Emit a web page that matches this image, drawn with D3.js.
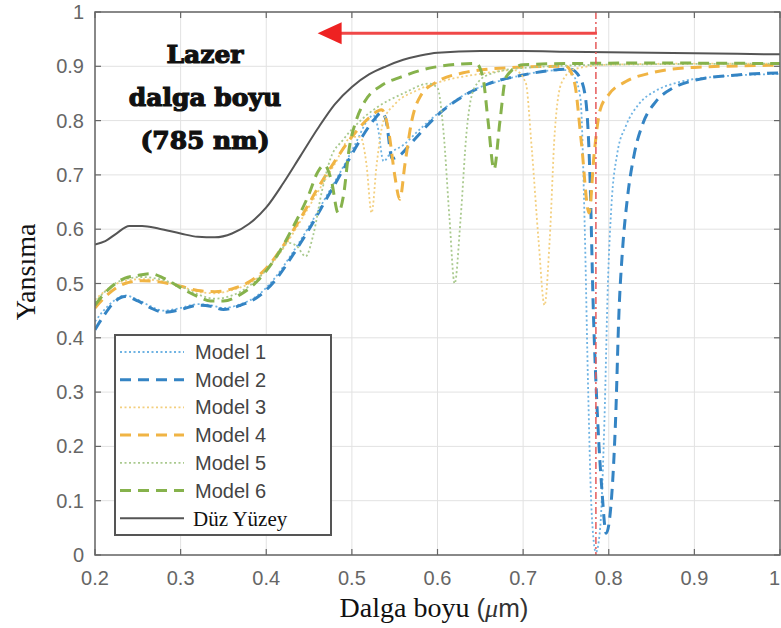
<!DOCTYPE html>
<html>
<head>
<meta charset="utf-8">
<script src="https://cdn.jsdelivr.net/npm/d3@7"></script>
<style>
  body { margin: 0; background: #fff; }
  svg { display: block; }
</style>
</head>
<body>
<div id="chart"></div>
<script>
// values: [wavelength (um), reflectance]
const model1 = [[0.2,0.43],[0.21,0.45],[0.222,0.468],[0.235,0.478],[0.25,0.47],[0.265,0.458],[0.28,0.45],[0.3,0.455],[0.32,0.462],[0.335,0.46],[0.35,0.455],[0.37,0.462],[0.39,0.478],[0.41,0.51],[0.43,0.555],[0.45,0.605],[0.47,0.66],[0.49,0.715],[0.505,0.76],[0.518,0.8],[0.525,0.81],[0.53,0.79],[0.537,0.725],[0.545,0.74],[0.56,0.755],[0.58,0.785],[0.61,0.825],[0.64,0.855],[0.67,0.872],[0.7,0.884],[0.73,0.892],[0.75,0.893],[0.76,0.88],[0.767,0.84],[0.772,0.6],[0.776,0.3],[0.78,0.08],[0.785,0.005],[0.79,0.05],[0.795,0.25],[0.799,0.5],[0.803,0.64],[0.81,0.74],[0.82,0.79],[0.835,0.83],[0.855,0.855],[0.88,0.87],[0.92,0.88],[1.0,0.886]];
const model2 = [[0.2,0.415],[0.21,0.44],[0.222,0.465],[0.235,0.476],[0.25,0.468],[0.265,0.455],[0.28,0.447],[0.3,0.452],[0.32,0.46],[0.335,0.458],[0.35,0.452],[0.37,0.46],[0.39,0.475],[0.41,0.505],[0.43,0.55],[0.45,0.6],[0.47,0.655],[0.49,0.71],[0.51,0.765],[0.525,0.8],[0.535,0.815],[0.54,0.8],[0.547,0.73],[0.555,0.735],[0.57,0.76],[0.6,0.81],[0.63,0.845],[0.66,0.868],[0.7,0.884],[0.73,0.892],[0.755,0.895],[0.766,0.88],[0.773,0.84],[0.778,0.7],[0.782,0.45],[0.787,0.25],[0.792,0.12],[0.797,0.04],[0.803,0.1],[0.808,0.25],[0.812,0.45],[0.816,0.56],[0.822,0.66],[0.83,0.74],[0.84,0.795],[0.855,0.835],[0.875,0.86],[0.9,0.874],[0.95,0.884],[1.0,0.888]];
const model3 = [[0.2,0.47],[0.215,0.49],[0.235,0.505],[0.255,0.508],[0.275,0.505],[0.3,0.495],[0.32,0.485],[0.34,0.482],[0.36,0.488],[0.38,0.5],[0.4,0.525],[0.42,0.565],[0.44,0.615],[0.46,0.668],[0.48,0.72],[0.5,0.77],[0.51,0.77],[0.517,0.72],[0.523,0.63],[0.529,0.72],[0.537,0.8],[0.55,0.83],[0.575,0.855],[0.6,0.87],[0.65,0.886],[0.69,0.893],[0.703,0.87],[0.71,0.75],[0.718,0.58],[0.725,0.46],[0.731,0.58],[0.737,0.78],[0.745,0.87],[0.76,0.895],[0.8,0.903],[0.9,0.905],[1.0,0.905]];
const model4 = [[0.2,0.455],[0.215,0.48],[0.235,0.5],[0.255,0.505],[0.275,0.503],[0.3,0.495],[0.32,0.487],[0.34,0.485],[0.36,0.49],[0.38,0.503],[0.4,0.528],[0.42,0.57],[0.44,0.62],[0.46,0.675],[0.48,0.725],[0.5,0.77],[0.52,0.805],[0.535,0.82],[0.543,0.78],[0.55,0.7],[0.556,0.655],[0.562,0.72],[0.57,0.8],[0.58,0.845],[0.6,0.872],[0.63,0.888],[0.68,0.897],[0.75,0.9],[0.76,0.87],[0.768,0.76],[0.777,0.63],[0.783,0.74],[0.79,0.82],[0.8,0.848],[0.82,0.872],[0.85,0.888],[0.9,0.898],[1.0,0.902]];
const model5 = [[0.2,0.465],[0.215,0.49],[0.235,0.508],[0.255,0.512],[0.275,0.508],[0.3,0.495],[0.32,0.48],[0.34,0.472],[0.36,0.478],[0.38,0.495],[0.4,0.525],[0.415,0.555],[0.425,0.575],[0.435,0.57],[0.446,0.55],[0.455,0.59],[0.465,0.67],[0.475,0.73],[0.49,0.765],[0.51,0.8],[0.53,0.825],[0.56,0.85],[0.59,0.868],[0.6,0.86],[0.607,0.78],[0.614,0.62],[0.62,0.5],[0.627,0.62],[0.634,0.78],[0.643,0.86],[0.66,0.885],[0.7,0.897],[0.8,0.903],[1.0,0.905]];
const model6 = [[0.2,0.46],[0.215,0.488],[0.235,0.51],[0.25,0.515],[0.265,0.518],[0.28,0.51],[0.3,0.492],[0.32,0.476],[0.335,0.468],[0.35,0.468],[0.37,0.48],[0.39,0.505],[0.41,0.545],[0.43,0.6],[0.45,0.665],[0.46,0.705],[0.468,0.718],[0.476,0.69],[0.484,0.63],[0.49,0.66],[0.497,0.75],[0.505,0.8],[0.515,0.835],[0.535,0.865],[0.557,0.88],[0.595,0.898],[0.645,0.905],[0.653,0.88],[0.659,0.8],[0.666,0.71],[0.673,0.8],[0.68,0.88],[0.7,0.903],[0.75,0.905],[0.85,0.906],[1.0,0.905]];
const flatSurface = [[0.2,0.572],[0.212,0.578],[0.225,0.592],[0.24,0.606],[0.255,0.606],[0.275,0.601],[0.3,0.592],[0.32,0.586],[0.34,0.585],[0.36,0.592],[0.38,0.61],[0.4,0.64],[0.42,0.685],[0.44,0.735],[0.46,0.785],[0.48,0.83],[0.5,0.862],[0.52,0.885],[0.54,0.9],[0.56,0.912],[0.58,0.92],[0.6,0.925],[0.65,0.928],[0.7,0.928],[0.75,0.927],[0.8,0.926],[0.85,0.925],[0.9,0.924],[0.95,0.923],[1.0,0.922]];

const xTicks = [0.2, 0.3, 0.4, 0.5, 0.6, 0.7, 0.8, 0.9, 1];
const xTickLabels = ["0.2", "0.3", "0.4", "0.5", "0.6", "0.7", "0.8", "0.9", "1"];
const yTicks = [0, 0.1, 0.2, 0.3, 0.4, 0.5, 0.6, 0.7, 0.8, 0.9, 1];
const yTickLabels = ["0", "0.1", "0.2", "0.3", "0.4", "0.5", "0.6", "0.7", "0.8", "0.9", "1"];

const laserWl = 0.785;     // 785 nm
const arrowLevel = 0.961;
const arrowTip = 0.46;

const series = [
  {name: "Model 1", data: model1, color: "#6fb3e3", width: 1.8, dash: "2,2.5"},
  {name: "Model 2", data: model2, color: "#3484c4", width: 3, dash: "11,7"},
  {name: "Model 3", data: model3, color: "#f3cf7f", width: 1.8, dash: "2,2.5"},
  {name: "Model 4", data: model4, color: "#f0b444", width: 3, dash: "11,7"},
  {name: "Model 5", data: model5, color: "#a9c98e", width: 1.8, dash: "2,2.5"},
  {name: "Model 6", data: model6, color: "#86b24c", width: 3, dash: "11,7"},
  {name: "Düz Yüzey", data: flatSurface, color: "#555", width: 2, dash: null}
];

const svgW = 781, svgH = 628;
const plotL = 95, plotR = 780, plotT = 12, plotB = 555;

const svg = d3.select("#chart").append("svg")
  .attr("width", svgW)
  .attr("height", svgH);

const x = d3.scaleLinear().domain([0.2, 1]).range([plotL, plotR]);
const y = d3.scaleLinear().domain([0, 1]).range([plotB, plotT]);

// grid
svg.append("g").selectAll("line").data(xTicks).enter().append("line")
  .attr("x1", d => x(d)).attr("x2", d => x(d))
  .attr("y1", plotT).attr("y2", plotB)
  .attr("stroke", "#e2e2e2").attr("stroke-width", 1);
svg.append("g").selectAll("line").data(yTicks).enter().append("line")
  .attr("x1", plotL).attr("x2", plotR)
  .attr("y1", d => y(d)).attr("y2", d => y(d))
  .attr("stroke", "#e2e2e2").attr("stroke-width", 1);

svg.append("defs").append("clipPath").attr("id", "plotclip")
  .append("rect").attr("x", plotL).attr("y", plotT)
  .attr("width", plotR - plotL).attr("height", plotB - plotT);

// curves
const line = d3.line()
  .x(d => x(d[0]))
  .y(d => y(d[1]))
  .curve(d3.curveMonotoneX);

const curves = svg.append("g").attr("clip-path", "url(#plotclip)");
series.forEach(s => {
  curves.append("path")
    .datum(s.data)
    .attr("d", line)
    .attr("fill", "none")
    .attr("stroke", s.color)
    .attr("stroke-width", s.width)
    .attr("stroke-dasharray", s.dash)
    .attr("stroke-linejoin", "round");
});

// laser wavelength marker
svg.append("line")
  .attr("x1", x(laserWl)).attr("x2", x(laserWl))
  .attr("y1", plotT).attr("y2", plotB)
  .attr("stroke", "#e65a5a").attr("stroke-width", 1.5)
  .attr("stroke-dasharray", "7,3,2,3");
svg.append("line")
  .attr("x1", x(laserWl) + 1).attr("x2", x(arrowTip) + 20)
  .attr("y1", y(arrowLevel)).attr("y2", y(arrowLevel))
  .attr("stroke", "#f04848").attr("stroke-width", 3);
svg.append("path")
  .attr("d", d3.line()([[x(arrowTip), y(arrowLevel)], [x(arrowTip) + 24, y(arrowLevel) - 11], [x(arrowTip) + 24, y(arrowLevel) + 11]]) + "Z")
  .attr("fill", "#ee2222");

// box and inward ticks
svg.append("rect")
  .attr("x", plotL).attr("y", plotT)
  .attr("width", plotR - plotL).attr("height", plotB - plotT)
  .attr("fill", "none").attr("stroke", "#666").attr("stroke-width", 1.5);

const tickG = svg.append("g").attr("stroke", "#666").attr("stroke-width", 1.2);
xTicks.forEach(t => {
  tickG.append("line").attr("x1", x(t)).attr("x2", x(t)).attr("y1", plotB).attr("y2", plotB - 6);
  tickG.append("line").attr("x1", x(t)).attr("x2", x(t)).attr("y1", plotT).attr("y2", plotT + 6);
});
yTicks.forEach(t => {
  tickG.append("line").attr("x1", plotL).attr("x2", plotL + 6).attr("y1", y(t)).attr("y2", y(t));
  tickG.append("line").attr("x1", plotR).attr("x2", plotR - 6).attr("y1", y(t)).attr("y2", y(t));
});

// tick labels (last one kept inside the window)
svg.append("g").selectAll("text").data(xTicks).enter().append("text")
  .attr("x", (d, i) => i === xTicks.length - 1 ? svgW - 1 : x(d))
  .attr("y", 585)
  .attr("text-anchor", (d, i) => i === xTicks.length - 1 ? "end" : "middle")
  .attr("font-family", "'Liberation Sans', Arial, sans-serif")
  .attr("font-size", 20)
  .attr("fill", "#666")
  .text((d, i) => xTickLabels[i]);
svg.append("g").selectAll("text").data(yTicks).enter().append("text")
  .attr("x", 84)
  .attr("y", d => y(d))
  .attr("dy", "0.35em")
  .attr("text-anchor", "end")
  .attr("font-family", "'Liberation Sans', Arial, sans-serif")
  .attr("font-size", 20)
  .attr("fill", "#666")
  .text((d, i) => yTickLabels[i]);

// axis titles
svg.append("text")
  .attr("transform", "translate(35,272) rotate(-90)")
  .attr("text-anchor", "middle")
  .attr("font-family", "'Liberation Serif', 'Times New Roman', serif")
  .attr("font-size", 28)
  .attr("fill", "#111")
  .text("Yansıma");

const xTitle = svg.append("text")
  .attr("x", 434).attr("y", 617)
  .attr("text-anchor", "middle")
  .attr("fill", "#111");
xTitle.append("tspan")
  .attr("font-family", "'Liberation Serif', 'Times New Roman', serif")
  .attr("font-size", 28)
  .text("Dalga boyu ");
xTitle.append("tspan")
  .attr("font-family", "'Liberation Sans', Arial, sans-serif")
  .attr("font-size", 26)
  .attr("fill", "#333")
  .text("(");
xTitle.append("tspan")
  .attr("font-family", "'Liberation Serif', 'Times New Roman', serif")
  .attr("font-style", "italic")
  .attr("font-size", 26)
  .attr("fill", "#333")
  .text("μ");
xTitle.append("tspan")
  .attr("font-family", "'Liberation Sans', Arial, sans-serif")
  .attr("font-size", 26)
  .attr("fill", "#333")
  .text("m)");

// annotation
const noteLines = ["Lazer", "dalga boyu", "(785 nm)"];
const noteBase = [63, 106, 149];
svg.append("g").selectAll("text").data(noteLines).enter().append("text")
  .attr("x", 205)
  .attr("y", (d, i) => noteBase[i])
  .attr("text-anchor", "middle")
  .attr("font-family", "'DejaVu Serif', serif")
  .attr("font-weight", "bold")
  .attr("font-size", 25)
  .attr("fill", "#111")
  .attr("stroke", "#111")
  .attr("stroke-width", 1.2)
  .text(d => d);

// legend
const legend = svg.append("g");
legend.append("rect")
  .attr("x", 115).attr("y", 335)
  .attr("width", 216).attr("height", 200)
  .attr("fill", "#fff").attr("stroke", "#555").attr("stroke-width", 2);
series.forEach((s, i) => {
  const ly = 352 + i * 27.7;
  legend.append("line")
    .attr("x1", 120).attr("x2", 184)
    .attr("y1", ly).attr("y2", ly)
    .attr("stroke", s.color)
    .attr("stroke-width", s.width)
    .attr("stroke-dasharray", s.dash);
  const isFlat = s.dash === null;
  legend.append("text")
    .attr("x", isFlat ? 193 : 195)
    .attr("y", ly)
    .attr("dy", "0.35em")
    .attr("font-family", isFlat ? "'Liberation Serif', 'Times New Roman', serif" : "'Liberation Sans', Arial, sans-serif")
    .attr("font-size", isFlat ? 21 : 20)
    .attr("fill", isFlat ? "#111" : "#444")
    .text(s.name);
});
</script>
</body>
</html>
